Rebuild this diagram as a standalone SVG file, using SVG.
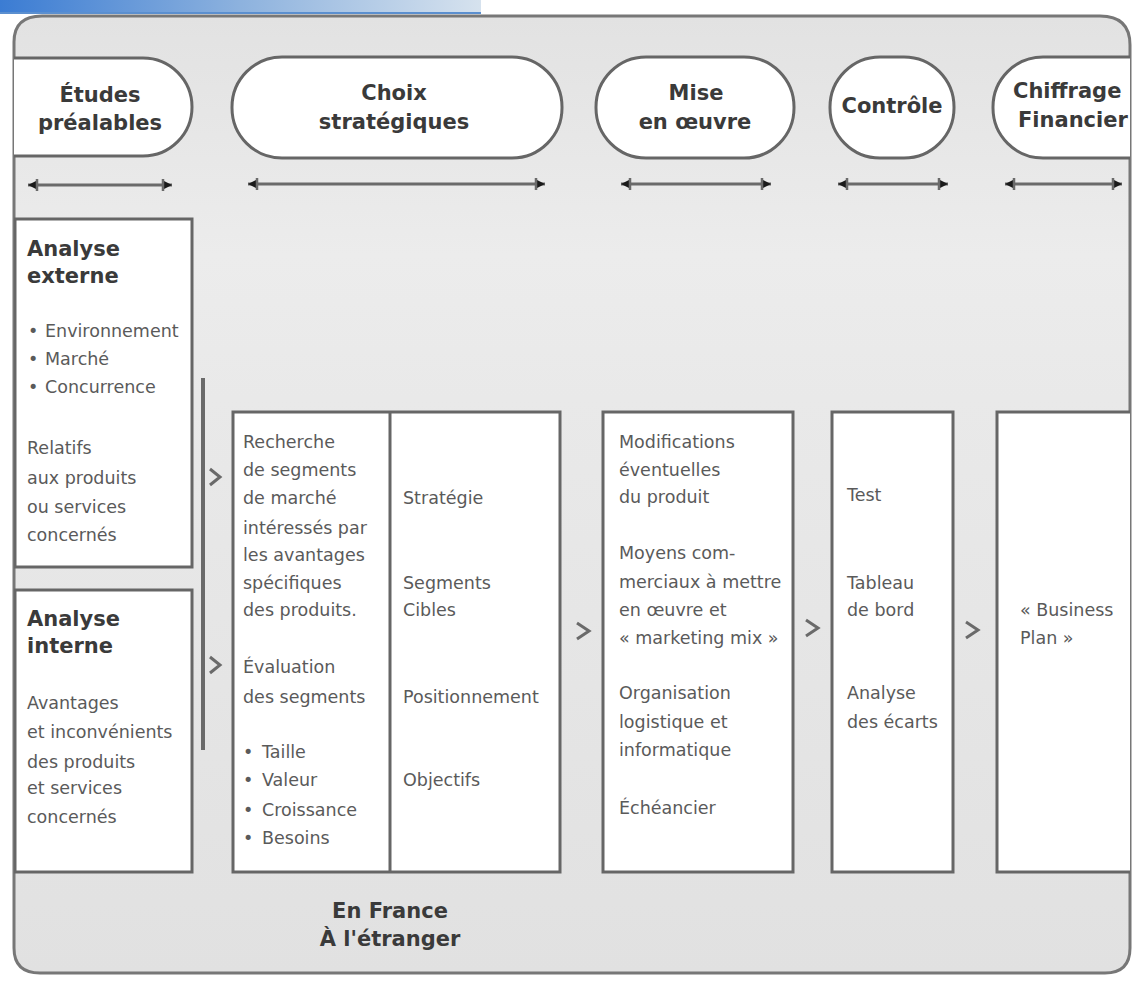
<svg xmlns="http://www.w3.org/2000/svg" width="1132" height="983" viewBox="0 0 1132 983">
<defs>
<linearGradient id="bar" x1="0" y1="0" x2="1" y2="0">
<stop offset="0" stop-color="#3b7cd3"/>
<stop offset="0.5" stop-color="#8db2de"/>
<stop offset="1" stop-color="#d6e2ee"/>
</linearGradient>
<linearGradient id="bg" x1="0" y1="0" x2="0" y2="1">
<stop offset="0" stop-color="#e2e2e2"/>
<stop offset="0.25" stop-color="#ececec"/>
<stop offset="0.4" stop-color="#e9e9e9"/>
<stop offset="1" stop-color="#e1e1e1"/>
</linearGradient>
<clipPath id="fr"><path d="M14,42 Q14,16 42,16 L1100,16 Q1130,16 1130,45 L1130,948 Q1130,973 1105,973 L40,973 Q14,973 14,948 Z"/></clipPath>
<marker id="ah" viewBox="0 0 14 14" refX="13" refY="7" markerWidth="14" markerHeight="14" orient="auto-start-reverse" markerUnits="userSpaceOnUse">
<path d="M5,3 L13,7 L5,11 Z" fill="#1a1a1a"/><path d="M4,1 V13" stroke="#6a6a6a" stroke-width="2.5"/>
</marker>
<style>
.pill{fill:#fff;stroke:#666;stroke-width:3}
.box{fill:#fff;stroke:#666;stroke-width:3}
.h{font-family:"DejaVu Sans","Liberation Sans",sans-serif;font-weight:bold;font-size:21px;fill:#3a3a3a}
.hc{text-anchor:middle}
.t{font-family:"DejaVu Sans","Liberation Sans",sans-serif;font-size:17.5px;fill:#5a5a5a}
.dbl{stroke:#6a6a6a;stroke-width:3;marker-start:url(#ah);marker-end:url(#ah)}
.chev{fill:none;stroke:#6a6a6a;stroke-width:3}
</style>
</defs>
<rect x="0" y="0" width="1132" height="983" fill="#fff"/>
<rect x="0" y="0" width="481" height="13" fill="url(#bar)"/>
<rect x="0" y="12" width="481" height="2" fill="#5b8fcf"/>
<path id="frame" d="M14,42 Q14,16 42,16 L1100,16 Q1130,16 1130,45 L1130,948 Q1130,973 1105,973 L40,973 Q14,973 14,948 Z" fill="url(#bg)" stroke="#777" stroke-width="3"/>
<g clip-path="url(#fr)">
<g id="etudes"><rect class="pill" x="-70" y="58" width="262" height="98" rx="49"/>
<text class="h hc" x="100" y="102">Études</text><text class="h hc" x="100" y="130">préalables</text></g>
<g id="choix"><rect class="pill" x="232" y="57" width="330" height="101" rx="50"/>
<text class="h hc" x="394" y="100">Choix</text><text class="h hc" x="394" y="129">stratégiques</text></g>
<g id="mise"><rect class="pill" x="596" y="57" width="198" height="101" rx="50"/>
<text class="h hc" x="696" y="100">Mise</text><text class="h hc" x="695" y="129">en œuvre</text></g>
<g id="controle"><rect class="pill" x="830" y="57" width="124" height="101" rx="50"/>
<text class="h hc" x="892" y="113">Contrôle</text></g>
<g id="chiffrage"><rect class="pill" x="993" y="57" width="220" height="101" rx="50"/>
<text class="h" x="1013" y="98">Chiffrage</text><text class="h" x="1018" y="127">Financier</text></g>

<g id="analyse-externe"><rect class="box" x="15" y="219" width="177" height="348"/>
<text class="h" x="27" y="256">Analyse</text><text class="h" x="27" y="283">externe</text>
<text class="t" x="28" y="337">•</text><text class="t" x="45" y="337">Environnement</text>
<text class="t" x="28" y="365">•</text><text class="t" x="45" y="365">Marché</text>
<text class="t" x="28" y="393">•</text><text class="t" x="45" y="393">Concurrence</text>
<text class="t" x="27" y="454">Relatifs</text><text class="t" x="27" y="484">aux produits</text>
<text class="t" x="27" y="513">ou services</text><text class="t" x="27" y="541">concernés</text></g>

<g id="analyse-interne"><rect class="box" x="15" y="590" width="177" height="282"/>
<text class="h" x="27" y="626">Analyse</text><text class="h" x="27" y="653">interne</text>
<text class="t" x="27" y="709">Avantages</text><text class="t" x="27" y="738">et inconvénients</text>
<text class="t" x="27" y="768">des produits</text><text class="t" x="27" y="794">et services</text>
<text class="t" x="27" y="823">concernés</text></g>

<g id="choix-detail"><rect class="box" x="233" y="412" width="327" height="460"/>
<line x1="390" y1="412" x2="390" y2="872" stroke="#666" stroke-width="3"/>
<text class="t" x="243" y="448">Recherche</text><text class="t" x="243" y="476">de segments</text>
<text class="t" x="243" y="504">de marché</text><text class="t" x="243" y="534">intéressés par</text>
<text class="t" x="243" y="561">les avantages</text><text class="t" x="243" y="589">spécifiques</text>
<text class="t" x="243" y="616">des produits.</text>
<text class="t" x="243" y="673">Évaluation</text><text class="t" x="243" y="703">des segments</text>
<text class="t" x="243" y="758">•</text><text class="t" x="262" y="758">Taille</text>
<text class="t" x="243" y="786">•</text><text class="t" x="262" y="786">Valeur</text>
<text class="t" x="243" y="816">•</text><text class="t" x="262" y="816">Croissance</text>
<text class="t" x="243" y="844">•</text><text class="t" x="262" y="844">Besoins</text>
<text class="t" x="403" y="504">Stratégie</text>
<text class="t" x="403" y="589">Segments</text><text class="t" x="403" y="616">Cibles</text>
<text class="t" x="403" y="703">Positionnement</text>
<text class="t" x="403" y="786">Objectifs</text></g>

<g id="mise-detail"><rect class="box" x="603" y="412" width="190" height="460"/>
<text class="t" x="619" y="448">Modifications</text><text class="t" x="619" y="476">éventuelles</text>
<text class="t" x="619" y="503">du produit</text>
<text class="t" x="619" y="559">Moyens com-</text><text class="t" x="619" y="588">merciaux à mettre</text>
<text class="t" x="619" y="616">en œuvre et</text><text class="t" x="619" y="644">« marketing mix »</text>
<text class="t" x="619" y="699">Organisation</text><text class="t" x="619" y="728">logistique et</text>
<text class="t" x="619" y="756">informatique</text>
<text class="t" x="619" y="814">Échéancier</text></g>

<g id="controle-detail"><rect class="box" x="832" y="412" width="121" height="460"/>
<text class="t" x="847" y="501">Test</text>
<text class="t" x="847" y="589">Tableau</text><text class="t" x="847" y="616">de bord</text>
<text class="t" x="847" y="699">Analyse</text><text class="t" x="847" y="728">des écarts</text></g>

<g id="chiffrage-detail"><rect class="box" x="997" y="412" width="160" height="460"/>
<text class="t" x="1020" y="616">« Business</text><text class="t" x="1020" y="644">Plan »</text></g>

<g id="connectors">
<line class="dbl" x1="28" y1="185" x2="172" y2="185"/>
<line class="dbl" x1="248" y1="184" x2="545" y2="184"/>
<line class="dbl" x1="621" y1="184" x2="771" y2="184"/>
<line class="dbl" x1="838" y1="184" x2="948" y2="184"/>
<line class="dbl" x1="1005" y1="184" x2="1122" y2="184"/>
<line x1="203" y1="378" x2="203" y2="750" stroke="#6a6a6a" stroke-width="4"/>
<polyline class="chev" points="210,469 220,477 210,485"/>
<polyline class="chev" points="210,657 220,665 210,673"/>
<polyline class="chev" points="577,623 589,631 577,639"/>
<polyline class="chev" points="806,620 818,628 806,636"/>
<polyline class="chev" points="966,622 978,630 966,638"/>
</g>
</g>
<g id="footer">
<text class="h hc" x="390" y="918">En France</text>
<text class="h hc" x="390" y="946">À l'étranger</text>
</g>
</svg>
